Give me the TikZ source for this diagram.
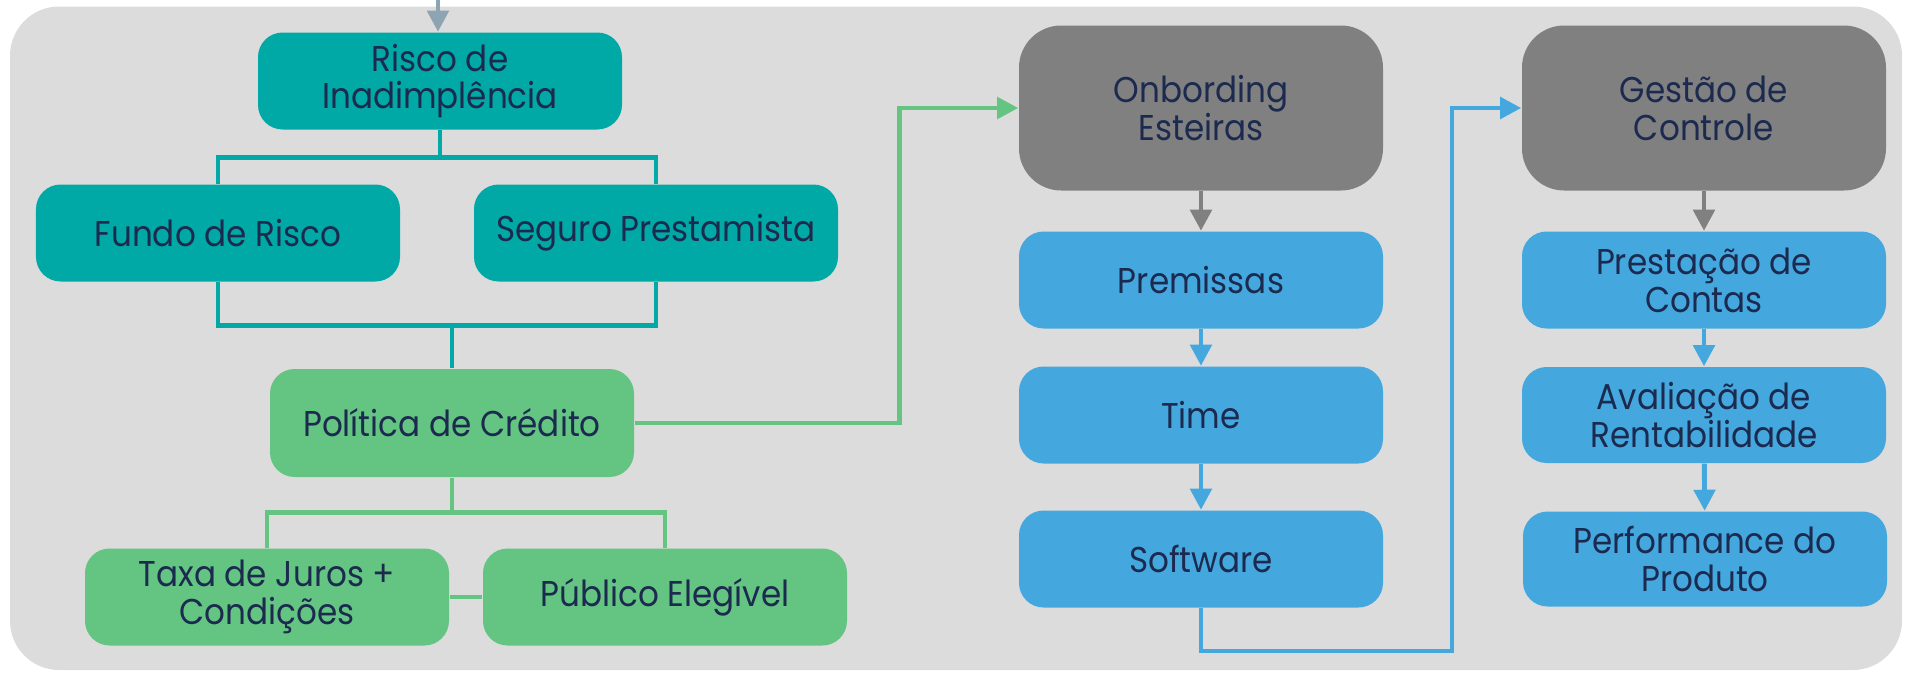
\documentclass[tikz,border=0pt]{standalone}
\usepackage{fontspec}
\setmainfont[FakeStretch=0.91]{Poppins}
\usetikzlibrary{arrows.meta}

\definecolor{bgGray}{RGB}{220,220,220}
\definecolor{riskTeal}{RGB}{0,169,165}
\definecolor{creditGreen}{RGB}{100,196,130}
\definecolor{headGray}{RGB}{128,128,128}
\definecolor{stepBlue}{RGB}{68,168,223}
\definecolor{inkNavy}{RGB}{27,42,78}
\definecolor{feedGray}{RGB}{143,164,178}

\tikzstyle{box} = [rectangle, rounded corners=7pt, text=inkNavy, align=center,
    minimum width=3.64cm, minimum height=0.97cm, inner sep=2pt,
    font=\fontsize{10.2}{10.8}\selectfont]
\tikzstyle{risk} = [box, fill=riskTeal]
\tikzstyle{credit} = [box, fill=creditGreen]
\tikzstyle{head} = [box, fill=headGray, minimum height=1.65cm, rounded corners=12pt]
\tikzstyle{stepbox} = [box, fill=stepBlue]
\tikzstyle{link} = [line width=1.4pt]
\tikzstyle{tip} = [-{Triangle[width=6pt,length=6pt]}]

\begin{document}
\begin{tikzpicture}[auto]
    \useasboundingbox (0,0) rectangle (19.07,-6.72);
    \fill [bgGray, rounded corners=14pt] (0.10,-0.065) rectangle (19.02,-6.70);
    % left block
    \node [risk] at (4.40,-0.81) (inad) {Risco de\\Inadimplência};
    \node [risk] at (2.18,-2.33) (fundo) {Fundo de Risco};
    \node [risk, right of=fundo, node distance=4.38cm] (seguro) {Seguro Prestamista};
    \node [credit, minimum height=1.08cm] at (4.52,-4.23) (politica) {Política de Crédito};
    \node [credit] at (2.67,-5.97) (taxa) {Taxa de Juros +\\Condições};
    \node [credit, right of=taxa, node distance=3.98cm] (publico) {Público Elegível};
    % middle column
    \node [head] at (12.01,-1.08) (onb) {Onbording\\Esteiras};
    \node [stepbox, below of=onb, node distance=1.72cm] (premissas) {Premissas};
    \node [stepbox, below of=premissas, node distance=1.35cm] (time) {Time};
    \node [stepbox, below of=time, node distance=1.44cm] (software) {Software};
    % right column
    \node [head, right of=onb, node distance=5.03cm] (gestao) {Gestão de\\Controle};
    \node [stepbox, right of=premissas, node distance=5.03cm] (prestacao) {Prestação de\\Contas};
    \node [stepbox, right of=time, node distance=5.03cm, minimum height=0.96cm] (avaliacao) {Avaliação de\\Rentabilidade};
    \node [stepbox, right of=software, node distance=5.04cm, minimum height=0.95cm] (perf) {Performance do\\Produto};
    \coordinate (entry) at (4.38,0);
    \coordinate (turn) at (14.52,-6.51);
    \draw [link, tip, feedGray] (entry) -- (entry |- inad.north);
    \draw [link, riskTeal] (inad.south) -- ++(0,-0.27) -| (fundo.north);
    \draw [link, riskTeal] (inad.south) -- ++(0,-0.27) -| (seguro.north);
    \draw [link, riskTeal] (fundo.south) -- ++(0,-0.43) -| (seguro.south);
    \draw [link, riskTeal] (politica.north) -- ++(0,0.44);
    \draw [link, creditGreen] (politica.south) -- ++(0,-0.35) -| (taxa.north);
    \draw [link, creditGreen] (politica.south) -- ++(0,-0.35) -| (publico.north);
    \draw [link, creditGreen] (taxa) -- (publico);
    \draw [link, tip, creditGreen] (politica.east) -- ++(2.65,0) |- (onb.west);
    \draw [link, tip, headGray] (onb) -- (premissas);
    \draw [link, tip, stepBlue] (premissas) -- (time);
    \draw [link, tip, stepBlue] (time) -- (software);
    \draw [link, tip, stepBlue] (software.south) |- (turn) |- (gestao.west);
    \draw [link, tip, headGray] (gestao) -- (prestacao);
    \draw [link, tip, stepBlue] (prestacao) -- (avaliacao);
    \draw [link, tip, stepBlue] (avaliacao) -- (perf);
\end{tikzpicture}
\end{document}
